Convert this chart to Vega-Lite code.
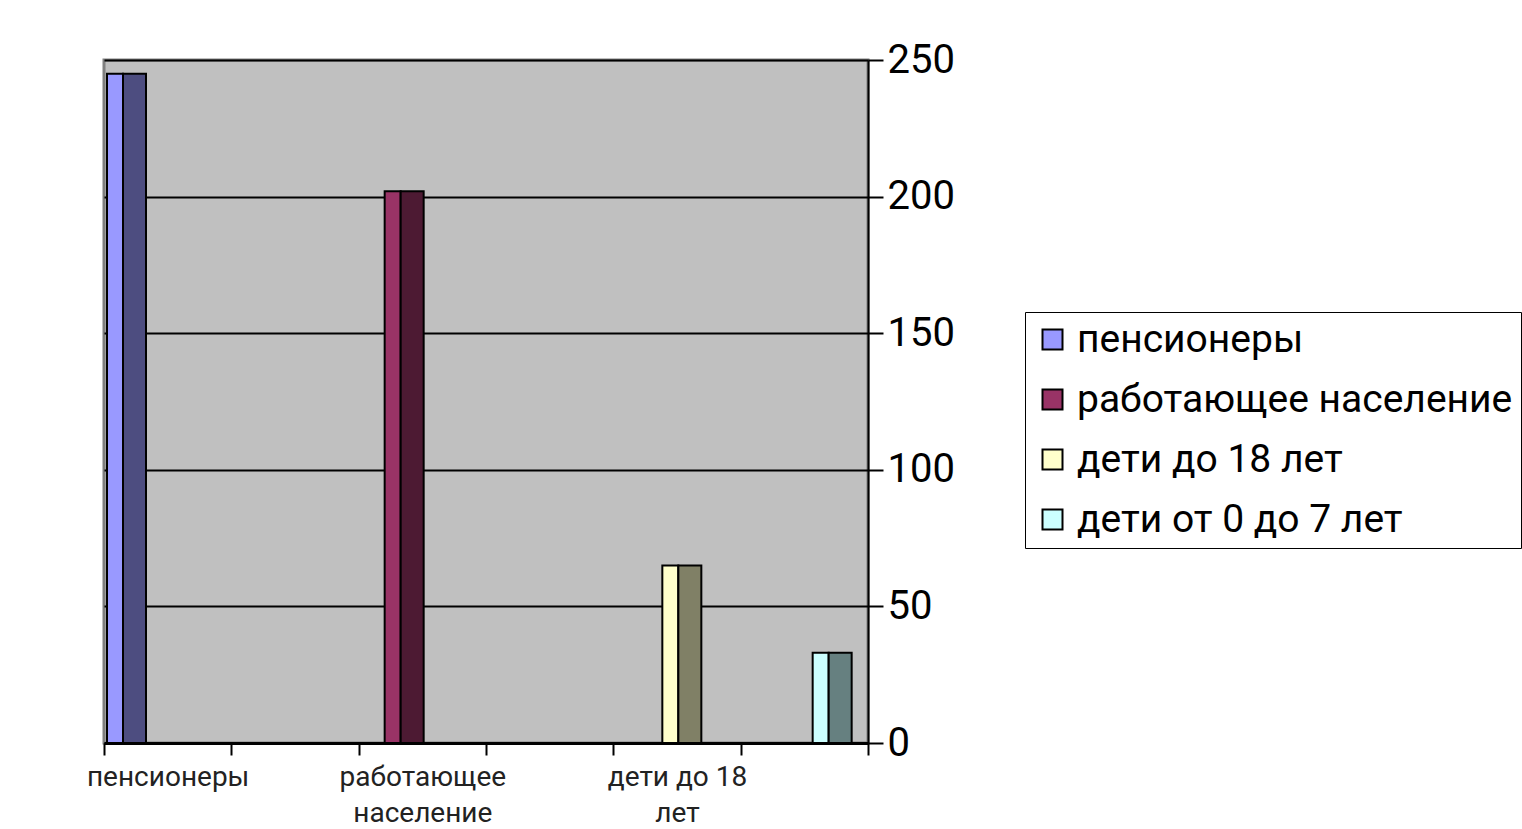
{
  "$schema": "https://vega.github.io/schema/vega-lite/v6.json",
  "width": 764,
  "height": 683,
  "autosize": {"type": "none"},
  "padding": {"left": 104, "top": 60, "right": 654, "bottom": 86},
  "background": "white",
  "config": {
    "view": {"fill": "#C0C0C0", "stroke": "#808080", "strokeWidth": 3},
    "font": "Roboto"
  },
  "data": {
    "values": [
      {"category": "пенсионеры", "series": "пенсионеры", "value": 245},
      {"category": "работающее население", "series": "работающее население", "value": 202},
      {"category": "дети до 18 лет", "series": "дети до 18 лет", "value": 65},
      {"category": "дети от 0 до 7 лет", "series": "дети от 0 до 7 лет", "value": 33}
    ]
  },
  "encoding": {
    "x": {
      "field": "category",
      "type": "nominal",
      "sort": null,
      "scale": {
        "domain": ["пенсионеры", " ", "работающее население", "  ", "дети до 18 лет", "дети от 0 до 7 лет"],
        "paddingInner": 0,
        "paddingOuter": 0
      },
      "axis": {
        "title": null,
        "labelAngle": 0,
        "tickBand": "extent",
        "ticks": true,
        "tickSize": 12,
        "tickWidth": 2,
        "tickColor": "black",
        "domainColor": "black",
        "domainWidth": 3,
        "labelFontSize": 28,
        "labelColor": "#222222",
        "labelPadding": 8,
        "labelLineHeight": 36,
        "labelOverlap": false,
        "labelBound": false,
        "labelLimit": 0,
        "labelBaseline": "top",
        "labelExpr": "datum.value == 'пенсионеры' ? 'пенсионеры' : datum.value == 'работающее население' ? ['работающее', 'население'] : datum.value == 'дети до 18 лет' ? ['дети до 18', 'лет'] : ''"
      }
    },
    "y": {
      "field": "value",
      "type": "quantitative",
      "scale": {"domain": [0, 250]},
      "axis": {
        "title": null,
        "orient": "right",
        "values": [0, 50, 100, 150, 200, 250],
        "grid": true,
        "gridColor": "black",
        "gridWidth": 2,
        "tickSize": 15,
        "tickWidth": 2,
        "tickColor": "black",
        "domainColor": "black",
        "domainWidth": 2,
        "labelFontSize": 40,
        "labelColor": "black",
        "labelPadding": 4
      }
    }
  },
  "layer": [
    {
      "mark": {"type": "bar", "width": 16, "stroke": "black", "strokeWidth": 2},
      "encoding": {
        "xOffset": {
          "field": "series",
          "type": "nominal",
          "scale": {
            "domain": ["пенсионеры", "работающее население", "дети до 18 лет", "дети от 0 до 7 лет"],
            "range": [-0.5, 91.5]
          }
        },
        "color": {
          "field": "series",
          "type": "nominal",
          "scale": {
            "domain": ["пенсионеры", "работающее население", "дети до 18 лет", "дети от 0 до 7 лет"],
            "range": ["#9999FF", "#993366", "#FFFFCC", "#CCFFFF"]
          },
          "legend": {
            "title": null,
            "orient": "none",
            "legendX": 921,
            "legendY": 252,
            "direction": "vertical",
            "symbolType": "square",
            "symbolSize": 400,
            "symbolStrokeColor": "black",
            "symbolStrokeWidth": 2,
            "labelFontSize": 39,
            "labelColor": "black",
            "labelLimit": 0,
            "rowPadding": 20,
            "labelOffset": 5,
            "strokeColor": "black",
            "fillColor": "white",
            "padding": 8
          }
        }
      }
    },
    {
      "mark": {"type": "bar", "width": 23, "stroke": "black", "strokeWidth": 2},
      "encoding": {
        "xOffset": {
          "field": "series",
          "type": "nominal",
          "scale": {
            "domain": ["пенсионеры", "работающее население", "дети до 18 лет", "дети от 0 до 7 лет"],
            "range": [19, 111]
          }
        },
        "color": {
          "field": "series",
          "type": "nominal",
          "scale": {
            "domain": ["пенсионеры", "работающее население", "дети до 18 лет", "дети от 0 до 7 лет"],
            "range": ["#4D4D80", "#4D1A33", "#808066", "#668080"]
          },
          "legend": null
        }
      }
    }
  ],
  "resolve": {"scale": {"color": "independent", "xOffset": "independent"}, "legend": {"color": "independent"}}
}
